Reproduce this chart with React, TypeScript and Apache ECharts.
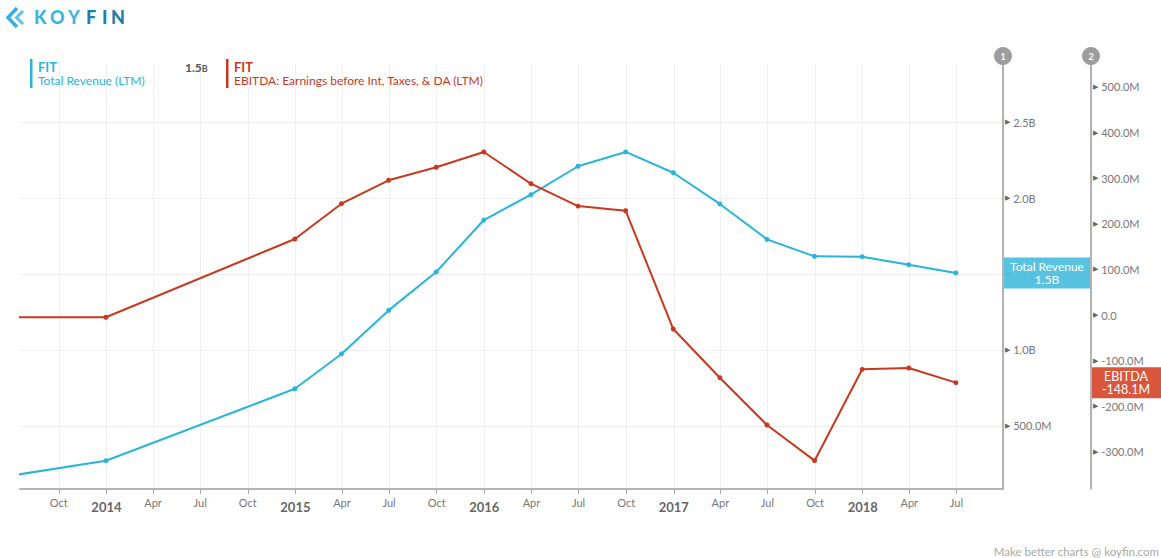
import React, { useEffect, useRef } from 'react';
import * as echarts from 'echarts';

// Quarter-end dates (LTM periods)
const periodDates: string[] = [
  '2012-12-31', '2013-12-31', '2014-12-31', '2015-03-31', '2015-06-30', '2015-09-30',
  '2015-12-31', '2016-03-31', '2016-06-30', '2016-09-30', '2016-12-31', '2017-03-31',
  '2017-06-30', '2017-09-30', '2017-12-31', '2018-03-31', '2018-06-30',
];
// Total Revenue (LTM), billions
const revenueB: number[] = [
  0.076, 0.2717, 0.745, 0.974, 1.2605, 1.513, 1.855, 2.022, 2.209, 2.303, 2.166, 1.961,
  1.728, 1.616, 1.614, 1.561, 1.507,
];
// EBITDA (LTM), millions
const ebitdaM: number[] = [
  -4.2, -4.8, 166.8, 244.2, 295.5, 324.0, 357.5, 288.0, 239.0, 228.8, -30.5, -137.2,
  -240.9, -319.1, -118.8, -115.9, -148.1,
];
// x-axis tick dates (quarter starts)
const xTickDates: string[] = [
  '2013-10-01', '2014-01-01', '2014-04-01', '2014-07-01', '2014-10-01',
  '2015-01-01', '2015-04-01', '2015-07-01', '2015-10-01',
  '2016-01-01', '2016-04-01', '2016-07-01', '2016-10-01',
  '2017-01-01', '2017-04-01', '2017-07-01', '2017-10-01',
  '2018-01-01', '2018-04-01', '2018-07-01',
];
const xRange: string[] = ['2013-07-18', '2018-09-29'];
const leftTicks: number[] = [0.5e9, 1.0e9, 1.5e9, 2.0e9, 2.5e9];
const leftRange: number[] = [0.0855e9, 2.8816e9];
const rightTicks: number[] = [-300e6, -200e6, -100e6, 0, 100e6, 200e6, 300e6, 400e6, 500e6];
const rightRange: number[] = [-381.2e6, 550.4e6];

const MONTHS = ['Jan', 'Feb', 'Mar', 'Apr', 'May', 'Jun', 'Jul', 'Aug', 'Sep', 'Oct', 'Nov', 'Dec'];
const toTs = (s: string) => {
  const [y, m, d] = s.split('-').map(Number);
  return Date.UTC(y, m - 1, d);
};

const CYAN = '#29b5d9';
const RED = '#c9381e';
const FONT = 'Lato, "Open Sans", sans-serif';

const fmtLeft = (v: number) => (v >= 1e9 ? (v / 1e9).toFixed(1) + 'B' : (v / 1e6).toFixed(1) + 'M');
const fmtRight = (v: number) => (Math.abs(v) < 1 ? '0.0' : (v / 1e6).toFixed(1) + 'M');

export default function App() {
  const ref = useRef<HTMLDivElement>(null);
  useEffect(() => {
    if (!ref.current) return;
    const chart = echarts.init(ref.current, null, { renderer: 'svg' });
    const revData = periodDates.map((d, i) => [toTs(d), revenueB[i] * 1e9]);
    const ebData = periodDates.map((d, i) => [toTs(d), ebitdaM[i] * 1e6]);
    const tickRich = {
      t: { fontFamily: '"DejaVu Sans"', fontSize: 7, color: '#666' },
      v: { fontFamily: FONT, fontSize: 11, color: '#777' },
    };
    const xTicks = xTickDates.map(toTs);
    chart.setOption({
      animation: false,
      textStyle: { fontFamily: FONT },
      grid: { left: 20, right: 158, top: 64, bottom: 69, containLabel: false },
      xAxis: {
        type: 'value',
        min: toTs(xRange[0]),
        max: toTs(xRange[1]),
        axisLine: { show: true, onZero: false, lineStyle: { color: '#b4b4b4', width: 2 } },
        axisTick: { show: true, length: 5, lineStyle: { color: '#a8a8a8' }, customValues: xTicks },
        splitLine: { show: true, lineStyle: { color: '#f0f0f0', width: 1 } },
        axisLabel: {
          customValues: xTicks,
          margin: 8,
          showMinLabel: true,
          showMaxLabel: true,
          formatter: (v: number) => {
            const d = new Date(v);
            const m = d.getUTCMonth();
            return m === 0 ? '{y|' + d.getUTCFullYear() + '}' : '{m|' + MONTHS[m] + '}';
          },
          rich: {
            y: { fontFamily: FONT, fontSize: 13, fontWeight: 'bold', color: '#666', padding: [3, 0, 0, 0] },
            m: { fontFamily: FONT, fontSize: 11, color: '#777' },
          },
        },
      },
      yAxis: [
        {
          type: 'value',
          position: 'right',
          min: leftRange[0],
          max: leftRange[1],
          axisLine: { show: true, lineStyle: { color: '#9a9a9a', width: 1.5 } },
          axisTick: { show: false, customValues: leftTicks },
          splitLine: { show: true, lineStyle: { color: '#efefef', width: 1 } },
          axisLabel: {
            customValues: leftTicks,
            margin: 2,
            formatter: (v: number) => '{t|▶}{v| ' + fmtLeft(v) + '}',
            rich: tickRich,
          },
        },
        {
          type: 'value',
          position: 'right',
          offset: 88,
          min: rightRange[0],
          max: rightRange[1],
          axisLine: { show: true, lineStyle: { color: '#9a9a9a', width: 1.5 } },
          axisTick: { show: false, customValues: rightTicks },
          splitLine: { show: false },
          axisLabel: {
            customValues: rightTicks,
            margin: 2,
            formatter: (v: number) => '{t|▶}{v| ' + fmtRight(v) + '}',
            rich: tickRich,
          },
        },
      ],
      series: [
        {
          name: 'Total Revenue (LTM)',
          type: 'line',
          yAxisIndex: 0,
          data: revData,
          showSymbol: true,
          symbol: 'circle',
          symbolSize: 5,
          lineStyle: { color: CYAN, width: 2 },
          itemStyle: { color: CYAN },
          clip: true,
        },
        {
          name: 'EBITDA (LTM)',
          type: 'line',
          yAxisIndex: 1,
          data: ebData,
          showSymbol: true,
          symbol: 'circle',
          symbolSize: 5,
          lineStyle: { color: RED, width: 2 },
          itemStyle: { color: RED },
          clip: true,
        },
      ],
    });

    const revLast = revenueB[revenueB.length - 1] * 1e9;
    const ebLast = ebitdaM[ebitdaM.length - 1] * 1e6;
    const yRev = chart.convertToPixel({ yAxisIndex: 0 }, revLast) as unknown as number;
    const yEb = chart.convertToPixel({ yAxisIndex: 1 }, ebLast) as unknown as number;

    const logoLetters = [
      { ch: 'K', x: 34, c: '#3db4dc' },
      { ch: 'O', x: 50, c: '#3db4dc' },
      { ch: 'Y', x: 68, c: '#3db4dc' },
      { ch: 'F', x: 86, c: '#1d80a8' },
      { ch: 'I', x: 102, c: '#1d80a8' },
      { ch: 'N', x: 111, c: '#1d80a8' },
    ];

    chart.setOption({
      graphic: [
        // logo
        { type: 'polyline', shape: { points: [[17, 8], [8, 17.5], [17, 27]] }, style: { stroke: '#3aaedb', lineWidth: 3.5, fill: null } },
        { type: 'polyline', shape: { points: [[23, 11], [16.5, 17.5], [23, 24]] }, style: { stroke: '#5cc3e6', lineWidth: 3, fill: null } },
        ...logoLetters.map((l) => ({
          type: 'text', x: l.x, y: 8,
          style: { text: l.ch, fill: l.c, fontFamily: 'Lato', fontSize: 18, fontWeight: 900 },
        })),
        // legend
        { type: 'rect', shape: { x: 30, y: 59, width: 2.5, height: 29 }, style: { fill: CYAN } },
        { type: 'text', x: 38, y: 60, style: { text: 'FIT', fill: CYAN, font: 'bold 13px ' + FONT } },
        { type: 'text', x: 38, y: 74, style: { text: 'Total Revenue (LTM)', fill: CYAN, font: '12px ' + FONT } },
        {
          type: 'text', x: 185, y: 61,
          style: {
            text: '{a|1.5}{b|B}',
            rich: {
              a: { fontFamily: FONT, fontSize: 12, fontWeight: 'bold', fill: '#555' },
              b: { fontFamily: FONT, fontSize: 9, fontWeight: 'bold', fill: '#555', padding: [2, 0, 0, 0] },
            },
          },
        },
        { type: 'rect', shape: { x: 226, y: 59, width: 2.5, height: 29 }, style: { fill: RED } },
        { type: 'text', x: 234, y: 60, style: { text: 'FIT', fill: RED, font: 'bold 13px ' + FONT } },
        { type: 'text', x: 234, y: 74, style: { text: 'EBITDA: Earnings before Int, Taxes, & DA (LTM)', fill: RED, font: '12px ' + FONT } },
        // axis number badges
        { type: 'circle', shape: { cx: 1003, cy: 56, r: 9 }, style: { fill: '#9d9d9d' } },
        { type: 'text', x: 1003, y: 56, style: { text: '1', fill: '#fff', font: 'bold 9px ' + FONT, align: 'center', verticalAlign: 'middle' } },
        { type: 'circle', shape: { cx: 1091, cy: 56, r: 9 }, style: { fill: '#9d9d9d' } },
        { type: 'text', x: 1091, y: 56, style: { text: '2', fill: '#fff', font: 'bold 9px ' + FONT, align: 'center', verticalAlign: 'middle' } },
        // last value boxes
        { type: 'rect', z: 100, shape: { x: 1004, y: yRev - 15.5, width: 86, height: 31 }, style: { fill: '#4fc0df', opacity: 0.95 } },
        {
          type: 'text', z: 101, x: 1047, y: yRev,
          style: { text: 'Total Revenue\n1.5B', fill: '#fff', font: '12px ' + FONT, align: 'center', verticalAlign: 'middle', lineHeight: 13 },
        },
        { type: 'rect', z: 100, shape: { x: 1092, y: yEb - 15.5, width: 69, height: 31 }, style: { fill: '#d9553b' } },
        {
          type: 'text', z: 101, x: 1126, y: yEb,
          style: { text: 'EBITDA\n-148.1M', fill: '#fff', font: '12.5px ' + FONT, align: 'center', verticalAlign: 'middle', lineHeight: 13 },
        },
        // footer
        { type: 'text', x: 1159, y: 545, style: { text: 'Make better charts @ koyfin.com', fill: '#a8a8a8', font: '11.5px ' + FONT, align: 'right' } },
      ],
    });

    return () => chart.dispose();
  }, []);
  return <div ref={ref} style={{ position: 'fixed', left: 0, top: 0, width: 1161, height: 558, background: '#fff' }} />;
}
